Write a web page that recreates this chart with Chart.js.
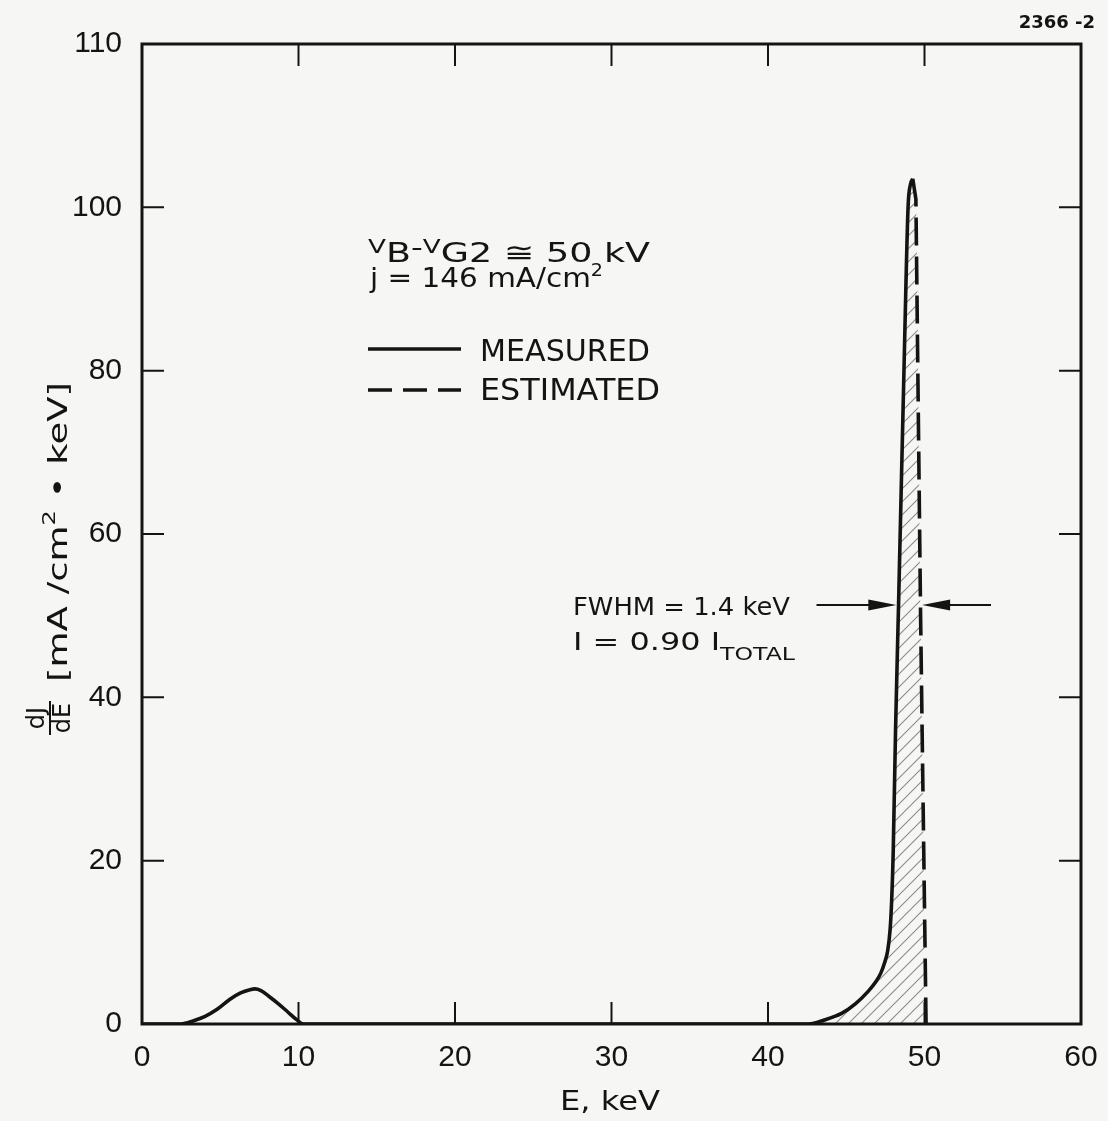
<!DOCTYPE html>
<html>
<head>
<meta charset="utf-8">
<script src="https://cdn.jsdelivr.net/npm/chart.js@4.4.1/dist/chart.umd.min.js"></script>
<style>
  html, body { margin: 0; padding: 0; background: #f6f6f4; }
  #wrap { width: 1108px; height: 1121px; }
</style>
</head>
<body>
<div id="wrap"><canvas id="spectrum" width="1108" height="1121"></canvas></div>
<script>
// energy spectrum, E in keV, dJ/dE in mA/(cm2.keV)
const measuredE = [0, 2.5, 3.3, 4.0, 4.8, 5.6, 6.3, 6.9, 7.2, 7.6, 8.1, 8.7, 9.3, 9.9, 10.3,
                   20, 30, 40, 42.6, 43.6, 44.7, 45.6, 46.4, 46.9, 47.2, 47.45, 47.65, 47.8,
                   47.9, 48.0, 48.15, 48.35, 48.7, 48.95, 49.1, 49.25];
const measuredJ = [0, 0, 0.4, 0.9, 1.8, 3.0, 3.8, 4.2, 4.3, 4.1, 3.4, 2.5, 1.5, 0.5, 0,
                   0, 0, 0, 0, 0.5, 1.3, 2.5, 4.0, 5.2, 6.2, 7.5, 9.0, 11.5,
                   15, 21, 36, 52, 81, 100, 102.8, 103.5];
const estimatedE = [49.25, 49.45, 49.75, 50.1];
const estimatedJ = [103.5, 101, 50, 0];

const xTickLabels = ['0', '10', '20', '30', '40', '50', '60'];
const yTickLabels = ['0', '20', '40', '60', '80', '100', '110'];

// FWHM arrows
const fwhmLevel = 51.3;
const fwhmLeftE = 48.2;
const fwhmRightE = 49.85;

const INK = '#141414';
const FONT = '"Liberation Sans", Arial, sans-serif';
const LETTER = '"DejaVu Sans", sans-serif';

function pts(xs, ys) {
    return xs.map((x, i) => ({ x: x, y: ys[i] }));
}

// hatched area under the main peak: measured rise then the estimated fall
const peakOutline = pts(measuredE, measuredJ).filter(p => p.x >= 40)
    .concat(pts(estimatedE, estimatedJ).slice(1));

function hatchPattern() {
    const c = document.createElement('canvas');
    c.width = 13; c.height = 13;
    const g = c.getContext('2d');
    g.strokeStyle = '#8c8c8c';
    g.lineWidth = 1.1;
    g.beginPath();
    g.moveTo(-3, 16); g.lineTo(16, -3);
    g.moveTo(-3, 3); g.lineTo(3, -3);
    g.moveTo(10, 16); g.lineTo(16, 10);
    g.stroke();
    return document.getElementById('spectrum').getContext('2d').createPattern(c, 'repeat');
}

// lettered text with sub/superscripts: parts = [text, scale, dy]
// stretched sideways to the given width, like the wide stencil lettering
function richText(ctx, x, y, parts, size, family, width) {
    let w = 0;
    parts.forEach(p => {
        ctx.font = (size * p[1]) + 'px ' + family;
        w += ctx.measureText(p[0]).width;
    });
    const k = width ? width / w : 1;
    ctx.save();
    ctx.translate(x, y);
    ctx.scale(k, 1);
    ctx.textAlign = 'left';
    ctx.textBaseline = 'alphabetic';
    let cx = 0;
    parts.forEach(p => {
        ctx.font = (size * p[1]) + 'px ' + family;
        ctx.fillText(p[0], cx, p[2]);
        cx += ctx.measureText(p[0]).width;
    });
    ctx.restore();
}

function arrow(ctx, x0, x1, y) {
    const dir = x1 > x0 ? 1 : -1;
    ctx.beginPath();
    ctx.moveTo(x0, y); ctx.lineTo(x1 - dir * 20, y);
    ctx.stroke();
    ctx.beginPath();
    ctx.moveTo(x1, y);
    ctx.lineTo(x1 - dir * 28, y - 5.5);
    ctx.lineTo(x1 - dir * 28, y + 5.5);
    ctx.closePath();
    ctx.fill();
}

const paperPlugin = {
    id: 'paper',
    beforeDraw(chart) {
        const ctx = chart.ctx;
        ctx.save();
        ctx.fillStyle = '#f6f6f4';
        ctx.fillRect(0, 0, chart.width, chart.height);
        ctx.restore();
    },
    afterDraw(chart) {
        const ctx = chart.ctx;
        const a = chart.chartArea;
        const xs = chart.scales.x, ys = chart.scales.y;
        ctx.save();
        ctx.strokeStyle = INK;
        ctx.fillStyle = INK;

        // frame
        ctx.lineWidth = 3;
        ctx.strokeRect(a.left, a.top, a.right - a.left, a.bottom - a.top);

        // inward ticks on all four sides
        ctx.lineWidth = 2;
        ctx.beginPath();
        xs.ticks.forEach(t => {
            if (t.value <= xs.min || t.value >= xs.max) return;
            const px = xs.getPixelForValue(t.value);
            ctx.moveTo(px, a.bottom); ctx.lineTo(px, a.bottom - 22);
            ctx.moveTo(px, a.top); ctx.lineTo(px, a.top + 22);
        });
        ys.ticks.forEach(t => {
            if (t.value <= ys.min || t.value >= ys.max) return;
            const py = ys.getPixelForValue(t.value);
            ctx.moveTo(a.left, py); ctx.lineTo(a.left + 22, py);
            ctx.moveTo(a.right, py); ctx.lineTo(a.right - 22, py);
        });
        ctx.stroke();

        // conditions
        richText(ctx, 368, 262, [['V', 0.72, -9], ['B', 1, 0], ['-', 0.9, -6], ['V', 0.72, -9],
            ['G2 \u2245 50 kV', 1, 0]], 27, LETTER, 282);
        richText(ctx, 370, 287, [['j = 146 mA/cm', 1, 0], ['2', 0.65, -11]], 26, LETTER, 233);

        // legend
        ctx.lineWidth = 3.5;
        ctx.beginPath();
        ctx.moveTo(368, 349); ctx.lineTo(461, 349);
        ctx.stroke();
        ctx.setLineDash([24, 11]);
        ctx.beginPath();
        ctx.moveTo(368, 390); ctx.lineTo(461, 390);
        ctx.stroke();
        ctx.setLineDash([]);
        richText(ctx, 480, 361, [['MEASURED', 1, 0]], 30, LETTER, 170);
        richText(ctx, 480, 400, [['ESTIMATED', 1, 0]], 30, LETTER, 180);

        // FWHM note and arrows
        richText(ctx, 573, 615, [['FWHM = 1.4 keV', 1, 0]], 24, LETTER, 217);
        richText(ctx, 573, 650, [['I = 0.90 I', 1, 0], ['TOTAL', 0.74, 10]], 24, LETTER, 222);
        const ay = ys.getPixelForValue(fwhmLevel);
        ctx.lineWidth = 2;
        arrow(ctx, xs.getPixelForValue(43.1), xs.getPixelForValue(fwhmLeftE), ay);
        arrow(ctx, xs.getPixelForValue(54.25), xs.getPixelForValue(fwhmRightE), ay);

        // axis titles
        richText(ctx, 560, 1110, [['E, keV', 1, 0]], 26, LETTER, 100);

        ctx.save();
        ctx.translate(0, 718);
        ctx.rotate(-Math.PI / 2);
        ctx.textAlign = 'center';
        ctx.font = '24px ' + LETTER;
        ctx.fillText('dJ', 0, 44);
        ctx.fillText('dE', 0, 70);
        ctx.lineWidth = 2;
        ctx.beginPath();
        ctx.moveTo(-17, 50); ctx.lineTo(17, 50);
        ctx.stroke();
        richText(ctx, 36, 67, [['[mA /cm', 1, 0], ['2', 0.65, -12], [' \u2022 keV]', 1, 0]], 26, LETTER, 300);
        ctx.restore();

        // figure number
        ctx.font = 'bold 18px ' + LETTER;
        ctx.textAlign = 'right';
        ctx.fillText('2366 -2', 1095, 28);
        ctx.restore();
    }
};

new Chart(document.getElementById('spectrum'), {
    type: 'line',
    data: {
        datasets: [
            {
                label: 'MEASURED',
                data: pts(measuredE, measuredJ),
                borderColor: INK,
                borderWidth: 3.6,
                cubicInterpolationMode: 'monotone',
                pointRadius: 0,
                fill: false
            },
            {
                label: 'ESTIMATED',
                data: pts(estimatedE, estimatedJ),
                borderColor: INK,
                borderWidth: 3.6,
                borderDash: [28, 11],
                tension: 0,
                pointRadius: 0,
                fill: false
            },
            {
                label: 'hatch',
                data: peakOutline,
                borderWidth: 0,
                borderColor: 'rgba(0,0,0,0)',
                backgroundColor: hatchPattern(),
                cubicInterpolationMode: 'monotone',
                pointRadius: 0,
                fill: 'origin'
            }
        ]
    },
    options: {
        responsive: false,
        animation: false,
        devicePixelRatio: 1,
        layout: { padding: { top: 44, right: 27, left: 0, bottom: 0 } },
        plugins: { legend: { display: false }, tooltip: { enabled: false } },
        scales: {
            x: {
                type: 'linear',
                min: 0, max: 60,
                grid: { display: false, drawTicks: false },
                border: { display: false },
                afterFit: s => { s.height = 97; s.paddingLeft = 0; s.paddingRight = 0; },
                ticks: {
                    stepSize: 10,
                    padding: 16,
                    color: INK,
                    font: { family: FONT, size: 30 },
                    callback: (v, i) => xTickLabels[i]
                }
            },
            y: {
                type: 'linear',
                min: 0, max: 120,
                grid: { display: false, drawTicks: false },
                border: { display: false },
                afterFit: s => { s.width = 142; s.paddingTop = 0; s.paddingBottom = 0; },
                ticks: {
                    stepSize: 20,
                    padding: 20,
                    color: INK,
                    font: { family: FONT, size: 30 },
                    callback: (v, i) => yTickLabels[i]
                }
            }
        }
    },
    plugins: [paperPlugin]
});
</script>
</body>
</html>
